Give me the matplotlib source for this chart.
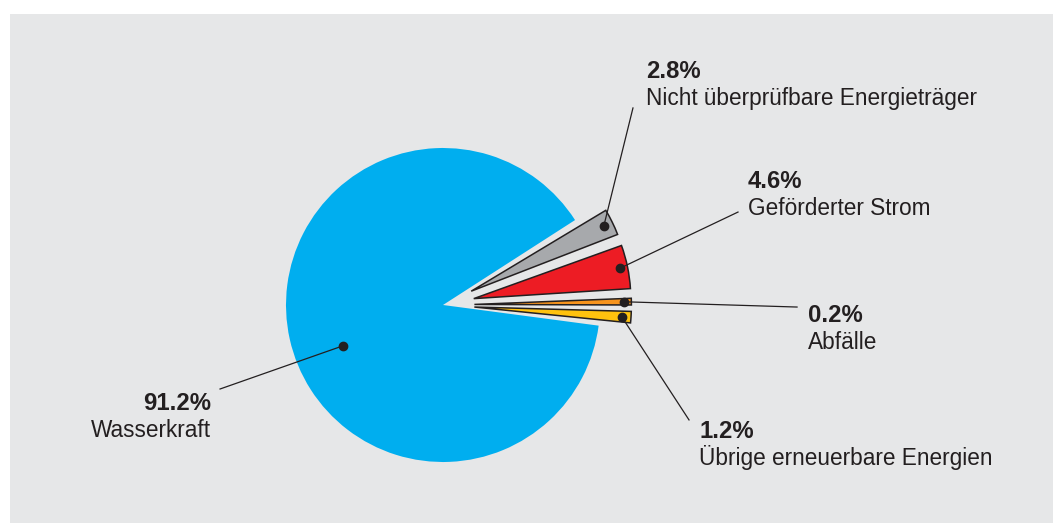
import matplotlib
matplotlib.use("Agg")
import matplotlib.pyplot as plt
from matplotlib.patches import Rectangle
import numpy as np

# shares of the electricity mix, percent (order: clockwise from top of the exploded group)
labels = ["Nicht überprüfbare Energieträger", "Geförderter Strom", "Abfälle",
          "Übrige erneuerbare Energien", "Wasserkraft"]
shares = [2.8, 4.6, 0.2, 1.2, 91.2]
colors = ["#a7a9ac", "#ed1c24", "#f7941d", "#ffc20e", "#00aeef"]

# label layout in pie-radius units: text anchor (x, baseline of first line), end of leader line
text_pos = [(1.293, 1.446), (1.943, 0.745), (2.325, -0.108), (1.631, -0.847), (-1.478, -0.669)]
line_end = [(1.210, 1.255), (1.879, 0.592), (2.255, -0.013), (1.567, -0.732), (-1.420, -0.535)]
dot_ang = [0.5, 0.5, 0.5, 0.5, 0.53]     # position along the wedge
dot_rad = [0.94, 0.95, 0.95, 0.94, 0.69]

ink = "#231f20"
plt.rcParams["font.family"] = ["Liberation Sans", "DejaVu Sans"]

fig = plt.figure(figsize=(10.53, 5.25), dpi=100)
ax = fig.add_axes([0, 0, 1, 1])
ax.set_facecolor("none")
# grey panel behind the chart
ax.add_patch(Rectangle((10 / 1053, 2 / 525), 1043 / 1053, 509 / 525,
                       transform=ax.transAxes, facecolor="#e6e7e8",
                       edgecolor="none", zorder=-10))

#tiny slices get a minimum visible width, transparent wedges make the gaps
drawn = np.maximum(shares, 0.7)
gap, gap_big = 0.4, 0.5
vals, cols, expl, idx = [], [], [], []
for i, s in enumerate(drawn):
    vals += [s, gap if i < 3 else gap_big]
    cols += [colors[i], "none"]
    expl += [0.2 if i < 4 else 0, 0]
    idx += [i, None]

wedges, _ = ax.pie(vals, colors=cols, explode=expl, startangle=31, counterclock=False,
                   radius=1, wedgeprops=dict(linewidth=0))

for w, i in zip(wedges, idx):
    if i is None:
        continue
    if i < 4:
        w.set_edgecolor(ink)
        w.set_linewidth(1.1)
    a = np.radians(w.theta1 + dot_ang[i] * (w.theta2 - w.theta1))
    cx, cy = w.center
    dx, dy = cx + dot_rad[i] * np.cos(a), cy + dot_rad[i] * np.sin(a)
    ex, ey = line_end[i]
    ax.plot([dx, ex], [dy, ey], color=ink, lw=0.9, zorder=5)
    ax.plot(dx, dy, "o", color=ink, ms=6, zorder=6)
    tx, ty = text_pos[i]
    ha = "right" if tx < 0 else "left"
    ax.text(tx, ty, f"{shares[i]:.1f}%", fontsize=17.2, fontweight="bold", color=ink,
            ha=ha, va="baseline")
    ax.text(tx, ty - 0.172, labels[i], fontsize=16.3, color=ink, ha=ha, va="baseline")

ax.set_xlim(-443 / 157, 610 / 157)
ax.set_ylim(-220 / 157, 305 / 157)
ax.set_aspect("equal")
ax.axis("off")

plt.savefig("out.png", dpi=100)
